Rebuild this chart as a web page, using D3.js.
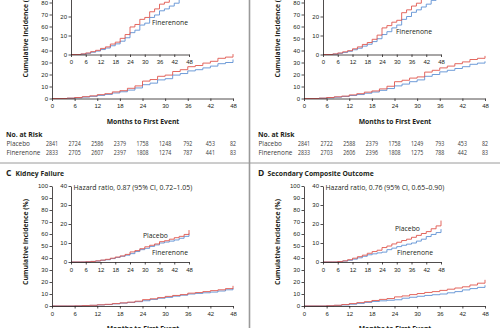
<!DOCTYPE html>
<html>
<head>
<meta charset="utf-8">
<script src="https://cdn.jsdelivr.net/npm/d3@7"></script>
<style>
  body { margin: 0; background: #fff; }
  svg { display: block; font-family: "Open Sans", Lato, sans-serif; }
</style>
</head>
<body>
<div id="chart"></div>
<script>
// Cumulative incidence curves, four panels (A, B top row cut off; C, D bottom)

// months at which the step curves change
const months = [0, 4, 6, 8, 10, 12, 14, 16, 18, 20, 22, 24, 26, 28, 30, 32, 34, 36, 38, 40, 42, 44, 46, 48];

// panel A
const placeboA = [0, 0.3, 0.8, 1.5, 2.2, 3.2, 4.0, 5.5, 6.5, 8.5, 10.5, 14.5, 15.8, 18.5, 19.5, 22.5, 24, 26.5, 27.5, 29.5, 31, 33.5, 34.5, 37];
const fineA    = [0, 0.2, 0.6, 1.2, 1.8, 2.6, 3.4, 4.6, 5.6, 7, 8.8, 11.5, 12.8, 15.5, 16.5, 19.5, 20.8, 23, 24, 25.5, 27, 29, 30, 32.5];
// panel B
const placeboB = [0, 0.3, 0.8, 1.4, 2, 3, 4, 5.3, 6.3, 8, 10.2, 14, 15.2, 17, 18, 22, 23.5, 25.5, 27, 29, 30.5, 32.5, 33.5, 35.5];
const fineB    = [0, 0.2, 0.6, 1.1, 1.7, 2.5, 3.3, 4.4, 5.4, 6.8, 8.3, 10.5, 12, 14, 15.5, 18.5, 20, 22.2, 23.5, 25, 26.5, 28.5, 29.5, 31];
// panel C, kidney failure
const placeboC = [0, 0, 0.1, 0.3, 0.6, 1.0, 1.4, 2, 2.6, 3.2, 4, 5.3, 6, 7, 8, 8.8, 9.5, 10.7, 11.2, 12, 12.8, 13.5, 14.5, 16.8];
const fineC    = [0, 0, 0.1, 0.3, 0.5, 0.9, 1.2, 1.8, 2.4, 3, 3.6, 4.4, 5.5, 6.5, 7.2, 8.2, 9, 10, 10.5, 11, 11.6, 12.5, 13.5, 15];
// panel D, secondary composite outcome
const placeboD = [0, 0, 0.2, 0.6, 1.2, 2, 2.8, 3.6, 4.6, 5.5, 6.2, 7.6, 8.4, 9.5, 10.4, 11.3, 12, 13, 14, 15, 16, 17.5, 19, 21.8];
const fineD    = [0, 0, 0.2, 0.5, 0.9, 1.5, 2.2, 3, 3.8, 4.3, 4.8, 5.2, 6.5, 7.3, 8.1, 8.8, 9.4, 10, 11, 12, 13.4, 14.5, 15.5, 17.3];

// tick labels
const xTicks = [0, 6, 12, 18, 24, 30, 36, 42, 48];
const mainYTicks = [0, 10, 20, 30, 40, 50, 60, 70, 80, 90, 100];
const insetYTicks = [0, 10, 20, 30, 40];

// numbers at risk (top panels)
const riskPlaceboA = [2841, 2724, 2586, 2379, 1758, 1248, 792, 453, 82];
const riskFineA    = [2833, 2705, 2607, 2397, 1808, 1274, 787, 441, 83];
const riskPlaceboB = [2841, 2722, 2588, 2379, 1758, 1249, 793, 453, 82];
const riskFineB    = [2833, 2703, 2606, 2396, 1808, 1275, 788, 442, 83];

const RED = "#e0574e", BLUE = "#5f91d4", INK = "#231f20";

const W = 500, H = 328;
const svg = d3.select("#chart").append("svg")
  .attr("width", W).attr("height", H);

const panels = [
  { letter: "A", title: "", dx: 0, dy: -207.5, placebo: placeboA, fine: fineA,
    hr: "", risk: [riskPlaceboA, riskFineA],
    fineLabel: [152, 232] },
  { letter: "B", title: "", dx: 252, dy: -207.5, placebo: placeboB, fine: fineB,
    hr: "", risk: [riskPlaceboB, riskFineB],
    fineLabel: [144, 241] },
  { letter: "C", title: "Kidney Failure", dx: 0, dy: 0, placebo: placeboC, fine: fineC,
    hr: "Hazard ratio, 0.87 (95% CI, 0.72\u20131.05)", risk: null,
    placeboLabel: [143, 237.5], fineLabel: [152, 254.5] },
  { letter: "D", title: "Secondary Composite Outcome", dx: 252, dy: 0, placebo: placeboD, fine: fineD,
    hr: "Hazard ratio, 0.76 (95% CI, 0.65\u20130.90)", risk: null,
    placeboLabel: [143, 230.5], fineLabel: [145, 254.5] }
];

function styleAxis(g) {
  g.selectAll("path, line").attr("stroke", INK).attr("stroke-width", 0.8);
  g.selectAll("text").attr("fill", INK).style("font-size", "6px").attr("font-family", null);
}

function drawPanel(p) {
  const g = svg.append("g").attr("transform", `translate(${p.dx},${p.dy})`);

  // main axes
  const x = d3.scaleLinear().domain([0, 48]).range([52, 233]);
  const y = d3.scaleLinear().domain([0, 100]).range([306, 186]);
  // inset axes
  const xi = d3.scaleLinear().domain([0, 48]).range([71, 189]);
  const yi = d3.scaleLinear().domain([0, 40]).range([262, 186]);

  const pts = vals => d3.zip(months, vals);

  [[p.fine, BLUE], [p.placebo, RED]].forEach(([vals, col]) => {
    g.append("path")
      .attr("d", d3.line().x(d => x(d[0])).y(d => y(d[1])).curve(d3.curveStepAfter)(pts(vals)))
      .attr("fill", "none").attr("stroke", col).attr("stroke-width", 0.9);
    g.append("path")
      .attr("d", d3.line().x(d => xi(d[0])).y(d => yi(d[1])).curve(d3.curveStepAfter)(pts(vals)))
      .attr("fill", "none").attr("stroke", col).attr("stroke-width", 0.9);
  });

  g.append("g").attr("transform", "translate(0,306)")
    .call(d3.axisBottom(x).tickValues(xTicks).tickSizeInner(2.5).tickSizeOuter(0).tickPadding(3))
    .call(styleAxis);
  g.append("g").attr("transform", "translate(52,0)")
    .call(d3.axisLeft(y).tickValues(mainYTicks).tickSizeInner(2.5).tickSizeOuter(0).tickPadding(1.5))
    .call(styleAxis);

  g.append("g").attr("transform", "translate(0,262)")
    .call(d3.axisBottom(xi).tickValues(xTicks).tickSizeInner(2.5).tickSizeOuter(0).tickPadding(3))
    .call(styleAxis);
  g.append("g").attr("transform", "translate(71,0)")
    .call(d3.axisLeft(yi).tickValues(insetYTicks).tickSizeInner(2.5).tickSizeOuter(0).tickPadding(1.5))
    .call(styleAxis);

  // y-axis title
  g.append("text")
    .attr("transform", "translate(28,242) rotate(-90)")
    .attr("text-anchor", "middle")
    .attr("fill", INK).style("font-size", "6.8px").style("font-weight", "bold")
    .text("Cumulative Incidence (%)");

  // hazard ratio
  if (p.hr) {
    g.append("text").attr("x", 73.5).attr("y", 189.5)
      .attr("fill", INK).style("font-size", "6.9px").text(p.hr);
  }

  // curve labels
  if (p.placeboLabel) {
    g.append("text").attr("x", p.placeboLabel[0]).attr("y", p.placeboLabel[1])
      .attr("fill", INK).style("font-size", "6.8px").text("Placebo");
  }
  if (p.fineLabel) {
    g.append("text").attr("x", p.fineLabel[0]).attr("y", p.fineLabel[1])
      .attr("fill", INK).style("font-size", "6.8px").text("Finerenone");
  }

  // x-axis title
  g.append("text").attr("x", 143).attr("y", 331)
    .attr("text-anchor", "middle")
    .attr("fill", INK).style("font-size", "6.8px").style("font-weight", "bold")
    .text("Months to First Event");

  // panel header
  g.append("text").attr("x", 6).attr("y", 175.5)
    .attr("fill", INK).style("font-size", "8.5px").style("font-weight", "bold")
    .text(p.letter);
  g.append("text").attr("x", 15.5).attr("y", 175.5)
    .attr("fill", INK).style("font-size", "6.8px").style("font-weight", "bold")
    .text(p.title);

  // numbers at risk
  if (p.risk) {
    g.append("text").attr("x", 6).attr("y", 344)
      .attr("fill", INK).style("font-size", "6.8px").style("font-weight", "bold")
      .text("No. at Risk");
    const rows = [["Placebo", p.risk[0], 353], ["Finerenone", p.risk[1], 362]];
    rows.forEach(([name, vals, yy]) => {
      g.append("text").attr("x", 6.5).attr("y", yy)
        .attr("fill", "#3a3a3a").style("font-size", "6.4px").text(name);
      g.selectAll(null).data(vals).enter().append("text")
        .attr("transform", (d, i) => `translate(${x(xTicks[i])},${yy}) scale(0.84,1)`)
        .attr("text-anchor", "middle")
        .attr("fill", "#3a3a3a").style("font-size", "6.3px")
        .text(d => d);
    });
  }
}

panels.forEach(drawPanel);

// panel separators
svg.append("line").attr("x1", 0).attr("x2", W).attr("y1", 163).attr("y2", 163)
  .attr("stroke", "#9a9a9a").attr("stroke-width", 1);
svg.append("line").attr("x1", 249.5).attr("x2", 249.5).attr("y1", 0).attr("y2", H)
  .attr("stroke", "#9a9a9a").attr("stroke-width", 1.6);
</script>
</body>
</html>
